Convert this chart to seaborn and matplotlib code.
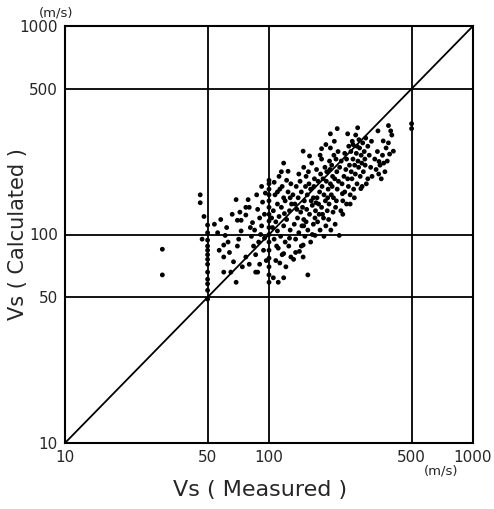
import numpy as np
import pandas as pd
import matplotlib
matplotlib.use("Agg")
import matplotlib.pyplot as plt
import matplotlib.ticker as mticker
from matplotlib import font_manager
import seaborn as sns

# Vs measured vs Vs calculated (m/s)
vs_measured = [
    # left outliers and the x = 50 column
    30, 30, 46, 46, 47, 48, 50, 50, 50, 50, 50, 50, 50, 50, 50, 50, 50, 50, 50,
    # 54 - 77
    54, 56, 61, 60, 64, 60, 60, 65, 69, 62, 70, 71, 70, 69, 77, 77, 66, 58, 73, 67, 74, 63, 57, 72,
    # 79 - 97
    79, 80, 73, 77, 83, 88, 93, 86, 90, 88, 80, 82, 85, 92, 95, 90, 84, 96, 92, 87, 95, 81, 89, 94, 97, 86, 91,
    # x = 100 column
    100, 100, 100, 100, 100, 100, 100, 100, 100, 100, 100, 100, 100, 100, 100, 100,
    # 103 - 129
    105, 108, 111, 116, 118, 118, 111, 106, 110, 114, 120, 125, 108, 112, 118,
    122, 127, 105, 110, 115, 120, 126, 107, 113, 118, 124, 129, 106, 112, 118,
    124, 128, 116, 122, 109, 126, 104, 121, 128, 113, 119, 103, 115, 127, 110,
    # 130 - 170
    132, 141, 147, 147, 155, 135, 140, 145, 150, 155, 160, 165, 138, 143, 148,
    153, 158, 163, 168, 134, 139, 144, 149, 154, 160, 165, 170, 136, 142, 147,
    152, 157, 162, 167, 133, 137, 146, 151, 156, 161, 166, 131, 140, 148, 158,
    144, 135, 163, 169, 152,
    # 170 - 220
    168, 178, 190, 201, 221, 148, 173, 176, 181, 185, 189, 193, 197, 202, 207,
    212, 216, 172, 177, 182, 186, 191, 195, 200, 205, 210, 215, 174, 179, 181,
    181, 188, 192, 198, 203, 208, 213, 218, 175, 184, 196, 206, 211, 186, 194,
    204, 214, 219, 171, 178, 190, 200, 209, 183, 199,
    # 220 - 300
    225, 230, 235, 240, 245, 250, 255, 260, 265, 270, 275, 280, 285, 290, 295,
    228, 233, 238, 243, 248, 253, 258, 263, 268, 273, 278, 283, 288, 293, 298,
    235, 222, 246, 256, 266, 276, 230, 250, 262, 286, 226, 240, 296, 252, 270,
    200, 216, 243, 272, 258, 305,
    # 300 - 410
    342, 385, 363, 385, 407, 346, 310, 315, 320, 330, 335, 340, 350, 355, 360,
    370, 375, 380, 390, 395, 400, 318, 300, 345, 365, 229, 282, 305,
    # x = 500
    500, 500,
]

vs_calculated = [
    85, 64, 155, 142, 95, 122, 111, 94, 84, 80, 72, 66, 61, 58, 54, 49, 102, 88, 76,
    112, 102, 99, 89, 82, 78, 66, 66, 59, 108, 117, 95, 88, 147, 135, 78, 125, 118, 104, 74, 70, 92, 84, 128,
    147, 135, 117, 124, 114, 132, 143, 66, 72, 66, 72, 98, 105, 110, 96, 120, 88, 158, 170, 155, 125, 108, 92, 84, 75, 80, 100,
    59, 64, 70, 77, 84, 92, 100, 108, 116, 125, 135, 145, 155, 165, 175, 182,
    62, 75, 59, 80, 62, 81, 86, 95, 104, 98, 92, 88, 115, 122, 110,
    118, 105, 130, 140, 135, 145, 130, 155, 165, 150, 160, 140, 178, 190, 220,
    201, 175, 170, 182, 88, 96, 108, 70, 78, 73, 126, 120, 200, 150, 160,
    76, 83, 78, 89, 64, 95, 102, 110, 98, 105, 92, 112, 120, 128, 118,
    132, 125, 138, 120, 140, 150, 160, 145, 155, 165, 150, 142, 170, 180, 251,
    190, 175, 220, 185, 112, 132, 135, 170, 200, 145, 170, 155, 195, 210, 238,
    88, 82, 100, 130, 115,
    99, 105, 110, 105, 99, 110, 115, 125, 135, 120, 145, 130, 140, 155, 150,
    135, 165, 150, 160, 170, 155, 180, 165, 175, 190, 185, 200, 180, 195, 230,
    258, 210, 200, 225, 215, 240, 230, 250, 140, 185, 118, 128, 112, 98, 150,
    170, 145, 180, 205, 240, 270, 260, 280, 125, 205,
    130, 145, 160, 140, 170, 155, 185, 165, 195, 175, 210, 190, 220, 200, 230,
    175, 190, 205, 185, 215, 200, 230, 215, 245, 225, 260, 240, 275, 250, 290,
    245, 210, 265, 280, 300, 285, 125, 140, 150, 170, 225, 230, 215, 250, 265,
    304, 322, 304, 325, 270, 265,
    314, 333, 281, 275, 251, 224, 240, 210, 190, 230, 205, 250, 215, 185, 240,
    200, 260, 225, 243, 314, 300, 280, 175, 195, 220, 157, 166, 185,
    340, 322,
]

major_ticks = [10, 50, 100, 500, 1000]
grid_values = [50, 100, 500]

df = pd.DataFrame({"measured": vs_measured, "calculated": vs_calculated})

sns.set_style("white")
plt.rcParams["font.family"] = ["DejaVu Sans"]

# узкий шрифт для цифр, если есть
names = {f.name for f in font_manager.fontManager.ttflist}
tick_font = "Liberation Sans Narrow" if "Liberation Sans Narrow" in names else "DejaVu Sans"

fig = plt.figure(figsize=(4.94, 5.09), dpi=100)
ax = fig.add_axes([65 / 494, 1 - 443 / 509, 408 / 494, 417 / 509])

ax.set_xscale("log")
ax.set_yscale("log")
ax.set_xlim(10, 1000)
ax.set_ylim(10, 1000)

# сетка и линия 1:1
for v in grid_values:
    ax.axvline(v, color="black", lw=1.3, zorder=1)
    ax.axhline(v, color="black", lw=1.3, zorder=1)
ax.plot([10, 1000], [10, 1000], color="black", lw=1.3, zorder=1)

sns.scatterplot(data=df, x="measured", y="calculated", ax=ax, color="black",
                s=12, edgecolor="none", zorder=3, legend=False)

for sp in ax.spines.values():
    sp.set_color("black")
    sp.set_linewidth(1.5)

ax.xaxis.set_major_locator(mticker.FixedLocator(major_ticks))
ax.yaxis.set_major_locator(mticker.FixedLocator(major_ticks))
ax.xaxis.set_major_formatter(mticker.FixedFormatter([str(t) for t in major_ticks]))
ax.yaxis.set_major_formatter(mticker.FixedFormatter([str(t) for t in major_ticks]))
ax.xaxis.set_minor_locator(mticker.LogLocator(base=10, subs=np.arange(2, 10)))
ax.yaxis.set_minor_locator(mticker.LogLocator(base=10, subs=np.arange(2, 10)))
ax.xaxis.set_minor_formatter(mticker.NullFormatter())
ax.yaxis.set_minor_formatter(mticker.NullFormatter())
ax.tick_params(which="major", direction="out", length=3, width=1.2, labelsize=11, pad=2)
ax.tick_params(which="minor", direction="inout", length=4, width=1)
for lab in ax.get_xticklabels() + ax.get_yticklabels():
    lab.set_family(tick_font)

ax.set_xlabel("Vs ( Measured )", fontsize=16)
ax.set_ylabel("Vs ( Calculated )", fontsize=15)
ax.xaxis.set_label_coords(0.478, -0.088)
ax.yaxis.set_label_coords(-0.09, 0.5)

fig.text(56 / 494, 1 - 13 / 509, "(m/s)", fontsize=9.5, ha="center", va="center",
         family=tick_font)
fig.text(441 / 494, 1 - 471 / 509, "(m/s)", fontsize=9.5, ha="center", va="center",
         family=tick_font)

fig.savefig("out.png", dpi=100)
